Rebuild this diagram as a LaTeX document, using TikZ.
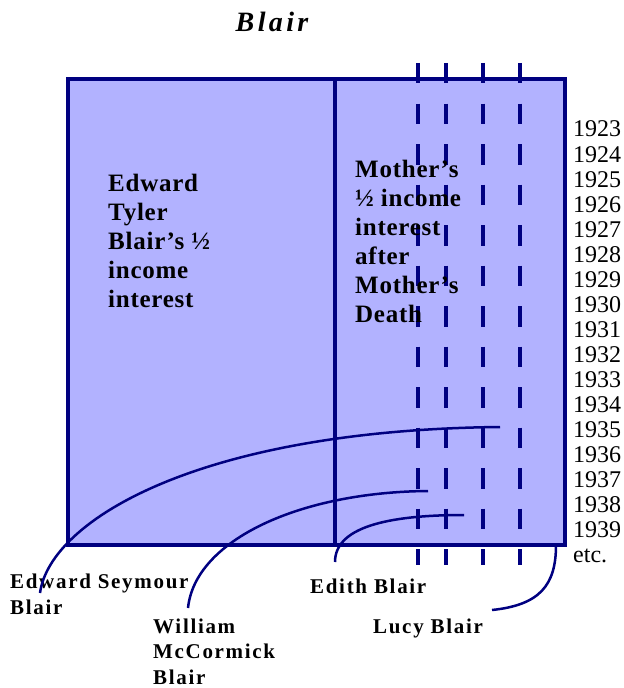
\documentclass[tikz,border=0pt]{standalone}
\usepackage{fontspec}
\setmainfont{Liberation Serif}
\newfontfamily\spaced[LetterSpace=8]{Liberation Serif}
\newfontfamily\titlefont[LetterSpace=12]{Liberation Serif}
\newfontfamily\bodyfont[LetterSpace=3]{Liberation Serif}
\definecolor{boxfill}{RGB}{178,178,255}
\definecolor{navy}{RGB}{0,0,128}
\tikzset{
  frame/.style={draw=navy, line width=4.5bp, fill=boxfill},
  divider/.style={draw=navy, line width=4.5bp},
  yearline/.style={draw=navy, line width=3.5bp, dash pattern=on 20.5bp off 20bp},
  link/.style={draw=navy, line width=2.5bp},
  bodytext/.style={anchor=base west, align=left, inner sep=0pt, font=\bodyfont\bfseries\fontsize{25bp}{29bp}\selectfont},
  lbl/.style={anchor=base west, align=left, inner sep=0pt, font=\spaced\bfseries\fontsize{21bp}{25.5bp}\selectfont},
  year/.style={anchor=base west, inner sep=0pt, font=\fontsize{24bp}{25bp}\selectfont}
}
\begin{document}
\begin{tikzpicture}[x=1bp,y=-1bp]
\useasboundingbox (0,0) rectangle (624,688);
% title
\node[anchor=base, inner sep=0pt, font=\titlefont\bfseries\itshape\fontsize{28bp}{30bp}\selectfont] (title) at (272,32) {Blair};
% main box
\path[frame] (68,79) rectangle (565,545);
\draw[divider] (335,79) -- (335,545);
% dashed year lines
\foreach \xx/\nm in {418/a,446/b,483/c,520/d}{
  \coordinate (top\nm) at (\xx,63);
  \coordinate (bot\nm) at (\xx,565);
  \draw[yearline] (top\nm) -- (bot\nm);
}
% box texts (base anchor = last line's baseline)
\node[bodytext] (left) at (108,307) {Edward\\Tyler\\Blair’s ½\\income\\interest};
\node[bodytext] (right) at (355,322) {Mother’s\\½ income\\interest\\after\\Mother’s\\Death};
% years
\foreach \yr [count=\i from 0] in {1923,1924,1925,1926,1927,1928,1929,1930,1931,1932,1933,1934,1935,1936,1937,1938,1939}{
  \node[year] (y\yr) at (573,{137+25.05*\i}) {\yr};
}
\node[year] (etc) at (573,562) {etc.};
% labels
\node[lbl] (esb) at (10,614) {Edward Seymour\\Blair};
\node[lbl] (wmb) at (153,684) {William\\McCormick\\Blair};
\node[lbl] (edb) at (310,593) {Edith Blair};
\node[lbl] (lcb) at (373,633) {Lucy Blair};
% connector ends
\coordinate (esbS) at (40,593);
\coordinate (esbE) at (500,427);
\coordinate (wmbS) at (188,608);
\coordinate (wmbE) at (428,491);
\coordinate (edbS) at (335,562);
\coordinate (edbE) at (464,515);
\coordinate (lcbS) at (492,610);
\coordinate (lcbE) at (556,545);
\draw[link] (esbS) .. controls (50,520) and (200,430) .. (esbE);
\draw[link] (wmbS) .. controls (195,540) and (300,492) .. (wmbE);
\draw[link] (edbS) .. controls (335,528) and (385,515) .. (edbE);
\draw[link] (lcbS) .. controls (540,605) and (556,585) .. (lcbE);
\end{tikzpicture}
\end{document}
